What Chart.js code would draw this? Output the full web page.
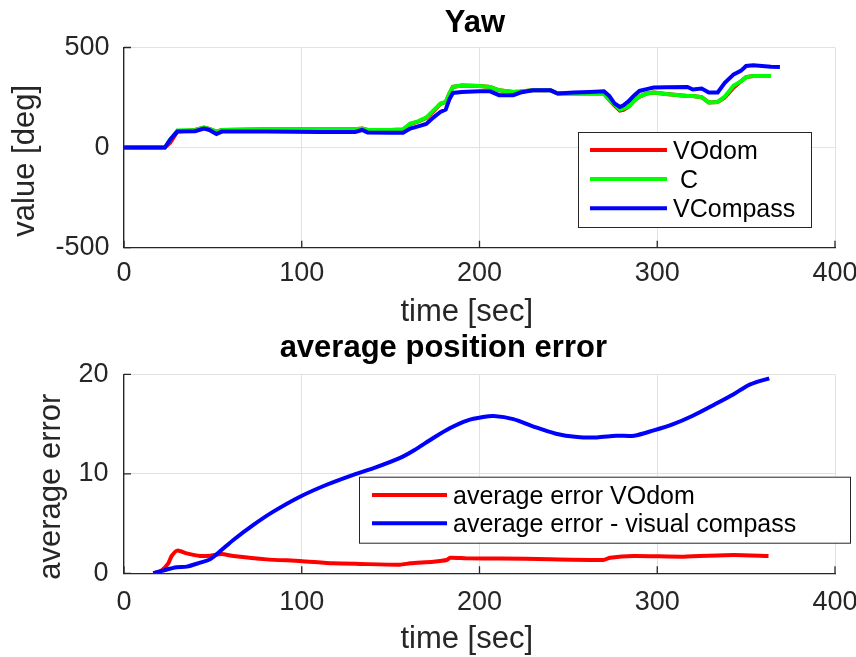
<!DOCTYPE html>
<html lang="en">
<head>
<meta charset="UTF-8">
<title>Yaw and average position error</title>
<script src="https://cdn.jsdelivr.net/npm/chart.js@4"></script>
<style>
  body { margin: 0; background: #fff; }
  .panel { position: absolute; left: 0; width: 856px; }
  #yawBox { top: 0; height: 330px; }
  #errBox { top: 330px; height: 327px; }
</style>
</head>
<body>
<div class="panel" id="yawBox"><canvas id="yawChart"></canvas></div>
<div class="panel" id="errBox"><canvas id="errChart"></canvas></div>
<script>
// yaw estimates [deg], sampled on one shared time row [sec]
const yawTime     = [0, 20, 23, 26, 30, 40, 45, 48, 52, 55, 80, 110, 130, 134, 137, 150, 157, 161, 165, 170, 174, 178, 181, 183, 185, 190, 200, 206, 211, 219, 223, 230, 240, 244, 253, 262, 270, 273, 276, 279, 281, 284, 287, 290, 294, 298, 305, 317, 320, 325, 329, 334, 338, 343, 347, 350, 354, 364, 369];
const yawVOdom    = [0, 0, 0, 25, 80, 88, 100, 93, 80, 88, 92, 92, 92, 95, 88, 88, 90, 118, 128, 148, 180, 218, 228, 268, 303, 310, 308, 303, 286, 278, 280, 286, 286, 270, 270, 270, 270, 238, 210, 185, 188, 205, 234, 255, 270, 275, 268, 258, 258, 252, 225, 228, 250, 300, 330, 352, 358, 358, null];
const yawC        = [0, 0, 0, 40, 85, 88, 100, 93, 80, 88, 92, 92, 92, 95, 88, 88, 90, 120, 130, 150, 185, 220, 228, 270, 303, 310, 308, 303, 286, 278, 280, 286, 286, 270, 270, 270, 270, 240, 215, 190, 195, 205, 236, 255, 270, 275, 268, 258, 258, 252, 225, 228, 255, 310, 330, 352, 358, 358, null];
const yawVCompass = [0, 0, 0, 40, 80, 82, 95, 88, 68, 80, 80, 78, 78, 88, 76, 74, 74, 95, 105, 118, 150, 178, 190, 240, 273, 278, 281, 281, 262, 262, 275, 286, 286, 270, 275, 278, 281, 258, 220, 203, 211, 233, 261, 283, 292, 300, 302, 303, 290, 295, 275, 275, 323, 366, 383, 408, 411, 404, 403];
const yawTicks = [-500, 0, 500];

// average position error
const errTimeVOdom = [16.5, 21.2, 24.9, 26.8, 30, 35.3, 42.8, 48.4, 55, 61.5, 80.3, 99, 117.8, 132.8, 155.3, 161, 174, 181.6, 183.5, 192.8, 211.6, 239.7, 269.7, 273.5, 286.6, 314.8, 342.9, 362.6];
const errVOdom     = [0, 0.3, 1.0, 1.74, 2.28, 2.0, 1.74, 1.77, 1.94, 1.74, 1.4, 1.24, 1.0, 0.94, 0.87, 1.0, 1.17, 1.34, 1.57, 1.5, 1.5, 1.4, 1.34, 1.57, 1.74, 1.67, 1.84, 1.74];
const errTimeCompass = [16.5, 22, 29.6, 35.3, 42.8, 48.4, 54, 61.5, 72.8, 84, 99, 114, 129, 142, 155, 163, 174, 183.5, 193, 202, 208, 219, 230, 243, 255, 266, 277, 287, 298, 309, 320, 332, 343, 352, 363];
const errCompass     = [0, 0.27, 0.6, 0.67, 1.07, 1.4, 2.2, 3.35, 4.87, 6.2, 7.7, 8.9, 9.9, 10.67, 11.57, 12.35, 13.6, 14.6, 15.35, 15.7, 15.8, 15.5, 14.77, 14.03, 13.7, 13.66, 13.83, 13.83, 14.37, 15.0, 15.84, 16.95, 18.0, 18.96, 19.6];
const errTicks = [0, 10, 20];

const timeTicks = [0, 100, 200, 300, 400];

const FONT = '"Liberation Sans", Arial, Helvetica, sans-serif';
const INK = '#262626';
const GRID = '#e2e2e2';

function series(label, color, xs, ys, order, tension) {
  return {
    label: label,
    borderColor: color,
    backgroundColor: color,
    borderWidth: 4,
    pointRadius: 0,
    tension: tension,
    order: order,
    data: xs.map((x, i) => ({ x: x, y: ys[i] }))
  };
}

function timeScale(boxHeight, pad) {
  return {
    type: 'linear', min: 0, max: 400,
    afterBuildTicks: s => { s.ticks = timeTicks.map(v => ({ value: v })); },
    afterFit: s => { s.height = boxHeight; s.paddingLeft = 0; s.paddingRight = 0; },
    grid: { color: GRID, lineWidth: 1, drawTicks: false },
    border: { color: INK, width: 1.3 },
    ticks: { color: INK, font: { family: FONT, size: 27 }, padding: pad, maxRotation: 0, autoSkip: false }
  };
}

function valueScale(min, max, ticks, pad) {
  return {
    type: 'linear', min: min, max: max,
    afterBuildTicks: s => { s.ticks = ticks.map(v => ({ value: v })); },
    afterFit: s => { s.width = 124; s.paddingTop = 0; s.paddingBottom = 0; },
    grid: { color: GRID, lineWidth: 1, drawTicks: false },
    border: { color: INK, width: 1.3 },
    ticks: { color: INK, font: { family: FONT, size: 27 }, padding: pad }
  };
}

// MATLAB-ish extras: inward ticks, boxed legend, title and axis labels
const panelDecor = {
  id: 'panelDecor',
  afterDatasetsDraw(chart, args, opts) {
    const ctx = chart.ctx;
    const area = chart.chartArea;
    const xs = chart.scales.x, ys = chart.scales.y;
    ctx.save();

    ctx.strokeStyle = INK;
    ctx.lineWidth = 1.3;
    ctx.beginPath();
    xs.ticks.forEach(t => {
      const px = xs.getPixelForValue(t.value);
      ctx.moveTo(px, area.bottom);
      ctx.lineTo(px, area.bottom - 7);
    });
    ys.ticks.forEach(t => {
      const py = ys.getPixelForValue(t.value);
      ctx.moveTo(area.left, py);
      ctx.lineTo(area.left + 7, py);
    });
    ctx.stroke();

    const lg = opts.legend;
    ctx.fillStyle = '#fff';
    ctx.fillRect(lg.x, lg.y, lg.w, lg.h);
    ctx.strokeStyle = INK;
    ctx.lineWidth = 1;
    ctx.strokeRect(lg.x + 0.5, lg.y + 0.5, lg.w, lg.h);
    ctx.font = '25px ' + FONT;
    ctx.textAlign = 'left';
    ctx.textBaseline = 'alphabetic';
    chart.data.datasets.forEach((ds, i) => {
      const ry = lg.rows[i];
      ctx.strokeStyle = ds.borderColor;
      ctx.lineWidth = ds.borderWidth;
      ctx.beginPath();
      ctx.moveTo(lg.lineFrom, ry);
      ctx.lineTo(lg.lineTo, ry);
      ctx.stroke();
      ctx.fillStyle = '#000';
      ctx.fillText(ds.label, lg.textX, ry + 9);
    });

    ctx.textAlign = 'center';
    ctx.fillStyle = '#000';
    ctx.font = 'bold 31px ' + FONT;
    ctx.fillText(opts.title.text, opts.title.x, opts.title.y);

    ctx.fillStyle = INK;
    ctx.font = '31px ' + FONT;
    ctx.fillText(opts.xLabel.text, opts.xLabel.x, opts.xLabel.y);

    ctx.translate(opts.yLabel.x, opts.yLabel.y);
    ctx.rotate(-Math.PI / 2);
    ctx.fillText(opts.yLabel.text, 0, 0);

    ctx.restore();
  }
};

const common = {
  responsive: true,
  maintainAspectRatio: false,
  animation: false,
  events: []
};

new Chart(document.getElementById('yawChart'), {
  type: 'line',
  data: {
    datasets: [
      series('VOdom', '#ff0000', yawTime, yawVOdom, 2, 0),
      series(' C', '#00ff00', yawTime, yawC, 1, 0),
      series('VCompass', '#0000ff', yawTime, yawVCompass, 0, 0)
    ]
  },
  options: Object.assign({}, common, {
    layout: { padding: { top: 47.5, right: 21, left: 0, bottom: 0 } },
    scales: {
      x: timeScale(82.3, 10),
      y: valueScale(-500, 500, yawTicks, 14.5)
    },
    plugins: {
      legend: { display: false },
      title: { display: false },
      tooltip: { enabled: false },
      panelDecor: {
        title: { text: 'Yaw', x: 475, y: 31.7 },
        xLabel: { text: 'time [sec]', x: 466.7, y: 321 },
        yLabel: { text: 'value [deg]', x: 34, y: 160.8 },
        legend: { x: 578, y: 132, w: 233, h: 95, lineFrom: 590, lineTo: 667, textX: 673, rows: [150, 179, 208.3] }
      }
    }
  }),
  plugins: [panelDecor]
});

new Chart(document.getElementById('errChart'), {
  type: 'line',
  data: {
    datasets: [
      series('average error VOdom', '#ff0000', errTimeVOdom, errVOdom, 1, 0.2),
      series('average error - visual compass', '#0000ff', errTimeCompass, errCompass, 0, 0.3)
    ]
  },
  options: Object.assign({}, common, {
    layout: { padding: { top: 44.3, right: 21, left: 0, bottom: 0 } },
    scales: {
      x: timeScale(83.7, 13),
      y: valueScale(0, 20, errTicks, 15.5)
    },
    plugins: {
      legend: { display: false },
      title: { display: false },
      tooltip: { enabled: false },
      panelDecor: {
        title: { text: 'average position error', x: 443.3, y: 27.3 },
        xLabel: { text: 'time [sec]', x: 466.7, y: 318 },
        yLabel: { text: 'average error', x: 60, y: 156.7 },
        legend: { x: 359, y: 146.7, w: 491, h: 66, lineFrom: 372, lineTo: 447, textX: 453, rows: [165, 193.3] }
      }
    }
  }),
  plugins: [panelDecor]
});
</script>
</body>
</html>
